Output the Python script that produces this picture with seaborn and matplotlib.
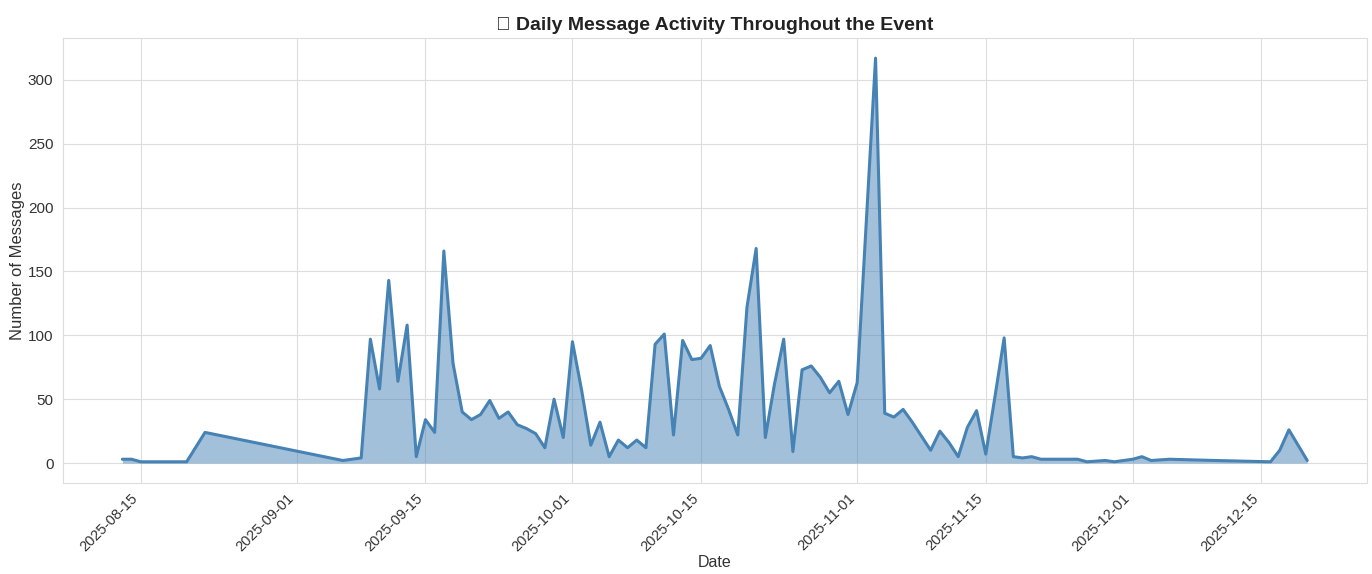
import pandas as pd
import matplotlib
matplotlib.use("Agg")
import matplotlib.pyplot as plt
import matplotlib.dates as mdates
import seaborn as sns

# Daily message counts
dates = [
    "2025-08-13", "2025-08-14", "2025-08-15", "2025-08-20", "2025-08-22",
    "2025-09-06", "2025-09-08", "2025-09-09", "2025-09-10", "2025-09-11",
    "2025-09-12", "2025-09-13", "2025-09-14", "2025-09-15", "2025-09-16",
    "2025-09-17", "2025-09-18", "2025-09-19", "2025-09-20", "2025-09-21",
    "2025-09-22", "2025-09-23", "2025-09-24", "2025-09-25", "2025-09-26",
    "2025-09-27", "2025-09-28", "2025-09-29", "2025-09-30", "2025-10-01",
    "2025-10-02", "2025-10-03", "2025-10-04", "2025-10-05", "2025-10-06",
    "2025-10-07", "2025-10-08", "2025-10-09", "2025-10-10", "2025-10-11",
    "2025-10-12", "2025-10-13", "2025-10-14", "2025-10-15", "2025-10-16",
    "2025-10-17", "2025-10-18", "2025-10-19", "2025-10-20", "2025-10-21",
    "2025-10-22", "2025-10-23", "2025-10-24", "2025-10-25", "2025-10-26",
    "2025-10-27", "2025-10-28", "2025-10-29", "2025-10-30", "2025-10-31",
    "2025-11-01", "2025-11-02", "2025-11-03", "2025-11-04", "2025-11-05",
    "2025-11-06", "2025-11-07", "2025-11-08", "2025-11-09", "2025-11-10",
    "2025-11-11", "2025-11-12", "2025-11-13", "2025-11-14", "2025-11-15",
    "2025-11-16", "2025-11-17", "2025-11-18", "2025-11-19", "2025-11-20",
    "2025-11-21", "2025-11-25", "2025-11-26", "2025-11-28", "2025-11-29",
    "2025-12-01", "2025-12-02", "2025-12-03", "2025-12-05", "2025-12-10",
    "2025-12-16", "2025-12-17", "2025-12-18", "2025-12-20",
]
messages = [
    3, 3, 1, 1, 24,
    2, 4, 97, 58, 143,
    64, 108, 5, 34, 24,
    166, 78, 40, 34, 38,
    49, 35, 40, 30, 27,
    23, 12, 50, 20, 95,
    57, 14, 32, 5, 18,
    12, 18, 12, 93, 101,
    22, 96, 81, 82, 92,
    60, 42, 22, 122, 168,
    20, 62, 97, 9, 73,
    76, 67, 55, 64, 38,
    63, 190, 317, 39, 36,
    42, 32, 21, 10, 25,
    16, 5, 28, 41, 7,
    52, 98, 5, 4, 5,
    3, 3, 1, 2, 1,
    3, 5, 2, 3, 2,
    1, 10, 26, 2,
]

df = pd.DataFrame({"Date": pd.to_datetime(dates), "Messages": messages})

sns.set_style("whitegrid")
plt.rcParams["font.family"] = ["Liberation Sans", "DejaVu Sans"]

fig, ax = plt.subplots(figsize=(13.72, 5.74), dpi=100)
fig.subplots_adjust(left=0.046, right=0.996, top=0.934, bottom=0.158)

sns.lineplot(data=df, x="Date", y="Messages", color="steelblue", linewidth=2.2, ax=ax)
ax.fill_between(df["Date"], df["Messages"], color="steelblue", alpha=0.5, linewidth=0)

# the emoji has no glyph in any installed font, as in the original render
ax.set_title("\U0001F4C5 Daily Message Activity Throughout the Event",
             fontsize=14, fontweight="bold", color="#222222")
ax.set_xlabel("Date", fontsize=11.5, color="#333333", labelpad=1)
ax.set_ylabel("Number of Messages", fontsize=12, color="#333333", labelpad=2)
ax.tick_params(axis="y", labelsize=11, colors="#333333")
ax.tick_params(axis="x", labelsize=10.5, colors="#333333", pad=2)

ax.xaxis.set_major_locator(mdates.DayLocator(bymonthday=[1, 15]))
ax.xaxis.set_major_formatter(mdates.DateFormatter("%Y-%m-%d"))
plt.setp(ax.get_xticklabels(), rotation=45, ha="right")

for s in ax.spines.values():
    s.set_color("#dddddd")
ax.grid(color="#dddddd")

plt.savefig("out.png", dpi=100)
